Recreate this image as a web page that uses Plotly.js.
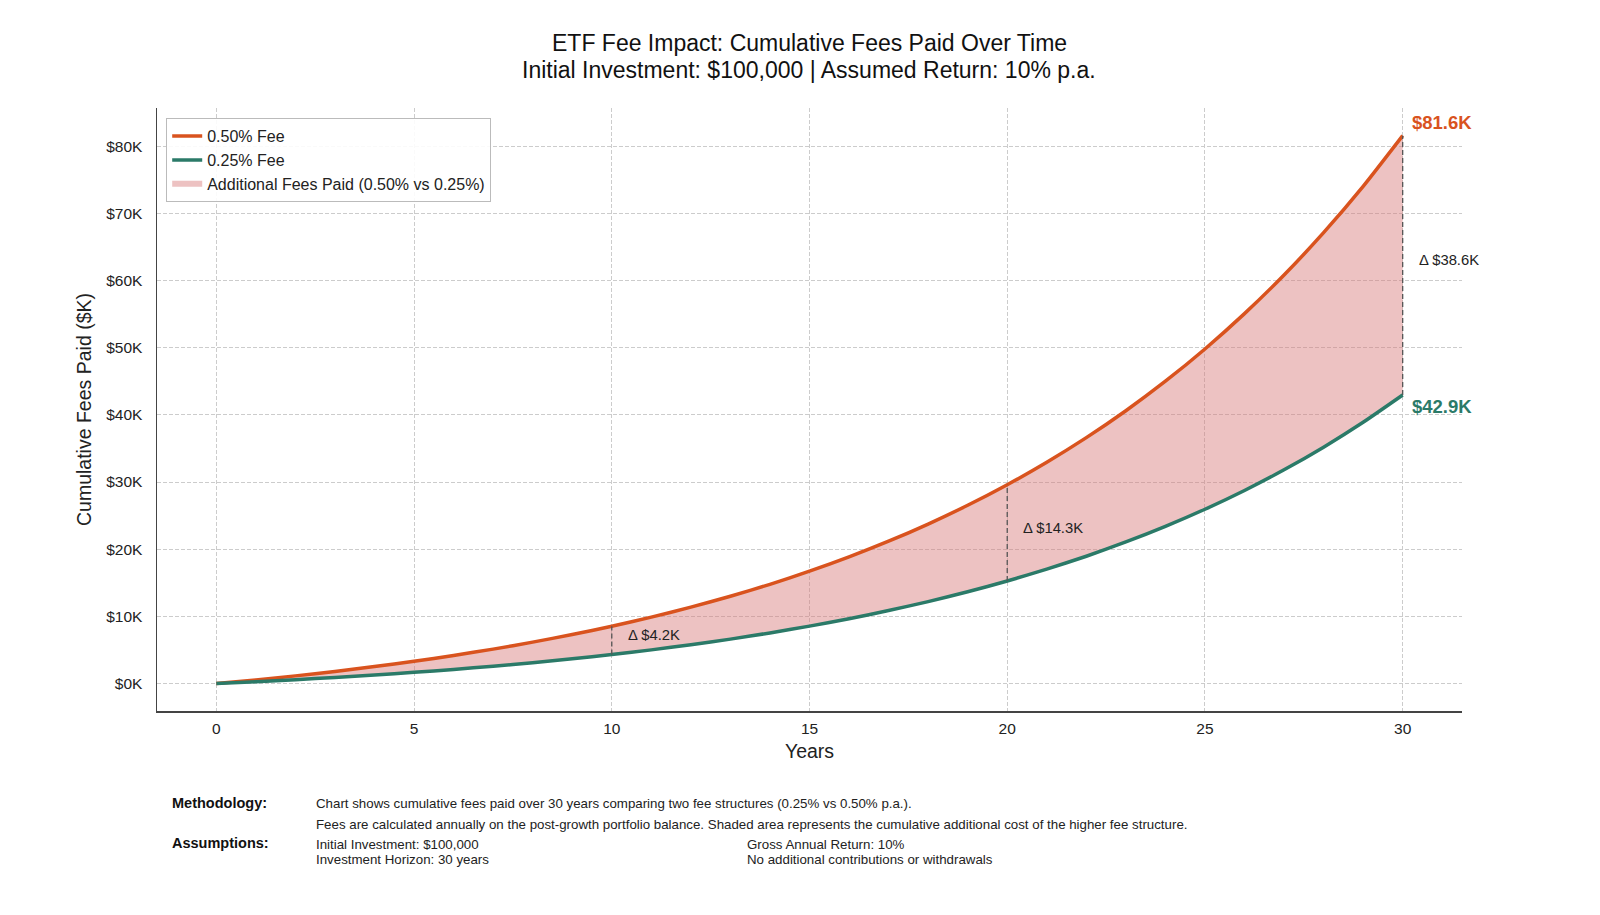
<!DOCTYPE html>
<html>
<head>
<meta charset="utf-8">
<script src="https://cdn.plot.ly/plotly-3.0.1.min.js"></script>
<style>
  html, body { margin: 0; padding: 0; background: #ffffff; }
  #chart { width: 1600px; height: 915px; }
</style>
</head>
<body>
<div id="chart"></div>
<script>
// ---- Data (in $K) ----
const years = [0,1,2,3,4,5,6,7,8,9,10,11,12,13,14,15,16,17,18,19,20,21,22,23,24,25,26,27,28,29,30];
const fees050 = [0,0.55,1.15,1.81,2.53,3.32,4.19,5.13,6.17,7.30,8.54,9.89,11.38,13.01,14.78,16.73,18.86,21.19,23.75,26.54,29.60,32.95,36.61,40.62,45.01,49.81,55.07,60.82,67.12,74.01,81.56];
const fees025 = [0,0.28,0.58,0.91,1.27,1.67,2.11,2.59,3.11,3.69,4.33,5.02,5.78,6.62,7.54,8.55,9.66,10.87,12.20,13.66,15.27,17.03,18.96,21.08,23.40,25.95,28.75,31.82,35.19,38.89,42.95];
const seriesNames = ['0.50% Fee', '0.25% Fee', 'Additional Fees Paid (0.50% vs 0.25%)'];
const markerYears = [10, 20, 30];
const endLabels = ['$81.6K', '$42.9K'];
const deltaLabels = ['Δ $4.2K', 'Δ $14.3K', 'Δ $38.6K'];
const xTickVals = [0,5,10,15,20,25,30];
const yTickVals = [0,10,20,30,40,50,60,70,80];
const yTickText = ['$0K','$10K','$20K','$30K','$40K','$50K','$60K','$70K','$80K'];
const titleLines = ['ETF Fee Impact: Cumulative Fees Paid Over Time', 'Initial Investment: $100,000 | Assumed Return: 10% p.a.'];
const footerMethod = ['Chart shows cumulative fees paid over 30 years comparing two fee structures (0.25% vs 0.50% p.a.).',
                      'Fees are calculated annually on the post-growth portfolio balance. Shaded area represents the cumulative additional cost of the higher fee structure.'];
const footerAssumeLeft = ['Initial Investment: $100,000', 'Investment Horizon: 30 years'];
const footerAssumeRight = ['Gross Annual Return: 10%', 'No additional contributions or withdrawals'];

// ---- Styles ----
const ORANGE = '#D9531E';
const GREEN = '#2B7A68';
const FILL = 'rgba(214,120,120,0.45)';
const FONT = 'Liberation Sans, Arial, sans-serif';

const M = {l: 157, r: 138, t: 108, b: 204};
const W = 1600, H = 915;
const pw = W - M.l - M.r, ph = H - M.t - M.b;
const px2x = p => (p - M.l) / pw;
const py2y = p => (H - M.b - p) / ph;

const traces = [
  {x: years, y: fees025, mode: 'lines', line: {width: 0, color: GREEN}, showlegend: false, hoverinfo: 'skip'},
  {x: years, y: fees050, mode: 'none', fill: 'tonexty', fillcolor: FILL, name: seriesNames[2], legendrank: 3, hoverinfo: 'skip'},
  {x: years, y: fees050, mode: 'lines', line: {width: 3.5, color: ORANGE, shape: 'spline', smoothing: 0.6}, name: seriesNames[0], legendrank: 1},
  {x: years, y: fees025, mode: 'lines', line: {width: 3.5, color: GREEN, shape: 'spline', smoothing: 0.6}, name: seriesNames[1], legendrank: 2}
];

const shapes = markerYears.map(yr => {
  const i = years.indexOf(yr);
  return {type: 'line', xref: 'x', yref: 'y', x0: yr, x1: yr, y0: fees025[i], y1: fees050[i],
          line: {color: '#555555', width: 1.3, dash: '5px,3px'}, layer: 'above'};
});

const annotations = [];
// delta labels
markerYears.forEach((yr, k) => {
  const i = years.indexOf(yr);
  annotations.push({x: yr, y: (fees025[i] + fees050[i]) / 2, xref: 'x', yref: 'y', text: deltaLabels[k],
    showarrow: false, xanchor: 'left', yanchor: 'middle', xshift: 14, yshift: 5,
    font: {family: FONT, size: 14.8, color: '#222222'}});
});
// end labels
const last = years.length - 1;
annotations.push({x: years[last], y: fees050[last], xref: 'x', yref: 'y', text: '<b>' + endLabels[0] + '</b>',
  showarrow: false, xanchor: 'left', yanchor: 'middle', xshift: 7, yshift: 13,
  font: {family: FONT, size: 18.5, color: ORANGE}});
annotations.push({x: years[last], y: fees025[last], xref: 'x', yref: 'y', text: '<b>' + endLabels[1] + '</b>',
  showarrow: false, xanchor: 'left', yanchor: 'middle', xshift: 7, yshift: -11,
  font: {family: FONT, size: 18.5, color: GREEN}});
// title
annotations.push({x: px2x(809), y: py2y(43), xref: 'paper', yref: 'paper', text: titleLines[0], showarrow: false,
  xanchor: 'center', yanchor: 'middle', font: {family: FONT, size: 23, color: '#111111'}});
annotations.push({x: px2x(809), y: py2y(70), xref: 'paper', yref: 'paper', text: titleLines[1], showarrow: false,
  xanchor: 'center', yanchor: 'middle', font: {family: FONT, size: 23, color: '#111111'}});
// footer
const fsmall = {family: FONT, size: 13.3, color: '#222222'};
const fbold = {family: FONT, size: 14.5, color: '#111111'};
function addText(txt, xp, yp, f) {
  annotations.push({x: px2x(xp), y: py2y(yp), xref: 'paper', yref: 'paper', text: txt, showarrow: false,
    xanchor: 'left', yanchor: 'middle', font: f});
}
addText('<b>Methodology:</b>', 170, 803, fbold);
addText(footerMethod[0], 314, 803, fsmall);
addText(footerMethod[1], 314, 824, fsmall);
addText('<b>Assumptions:</b>', 170, 843, fbold);
addText(footerAssumeLeft[0], 314, 844, fsmall);
addText(footerAssumeLeft[1], 314, 859, fsmall);
addText(footerAssumeRight[0], 745, 844, fsmall);
addText(footerAssumeRight[1], 745, 859, fsmall);

const layout = {
  width: W, height: H,
  margin: M,
  paper_bgcolor: '#ffffff', plot_bgcolor: '#ffffff',
  font: {family: FONT, color: '#222222'},
  showlegend: true,
  legend: {x: px2x(166), y: py2y(118), xanchor: 'left', yanchor: 'top', traceorder: 'normal',
           bgcolor: 'rgba(255,255,255,0.9)', bordercolor: '#bbbbbb', borderwidth: 1.2,
           font: {family: FONT, size: 16, color: '#222222'}, tracegroupgap: 0},
  xaxis: {range: [-1.5, 31.5], tickvals: xTickVals, showgrid: true, gridcolor: '#cccccc', gridwidth: 1, griddash: '4px,2px',
          zeroline: false, showline: true, linecolor: '#444444', linewidth: 1.5, ticks: '', ticklabelstandoff: 3,
          tickfont: {family: FONT, size: 15.5, color: '#222222'},
          title: {text: 'Years', font: {family: FONT, size: 19.5, color: '#222222'}, standoff: 8}},
  yaxis: {range: [-4.08, 85.68], tickvals: yTickVals, ticktext: yTickText, showgrid: true, gridcolor: '#cccccc', gridwidth: 1, griddash: '4px,2px',
          zeroline: false, showline: true, linecolor: '#444444', linewidth: 1.5, ticks: '', ticklabelstandoff: 10,
          tickfont: {family: FONT, size: 15.5, color: '#222222'},
          title: {text: 'Cumulative Fees Paid ($K)', font: {family: FONT, size: 19.5, color: '#222222'}, standoff: 9}},
  shapes: shapes,
  annotations: annotations
};

Plotly.newPlot('chart', traces, layout, {displayModeBar: false, staticPlot: true});
</script>
</body>
</html>
